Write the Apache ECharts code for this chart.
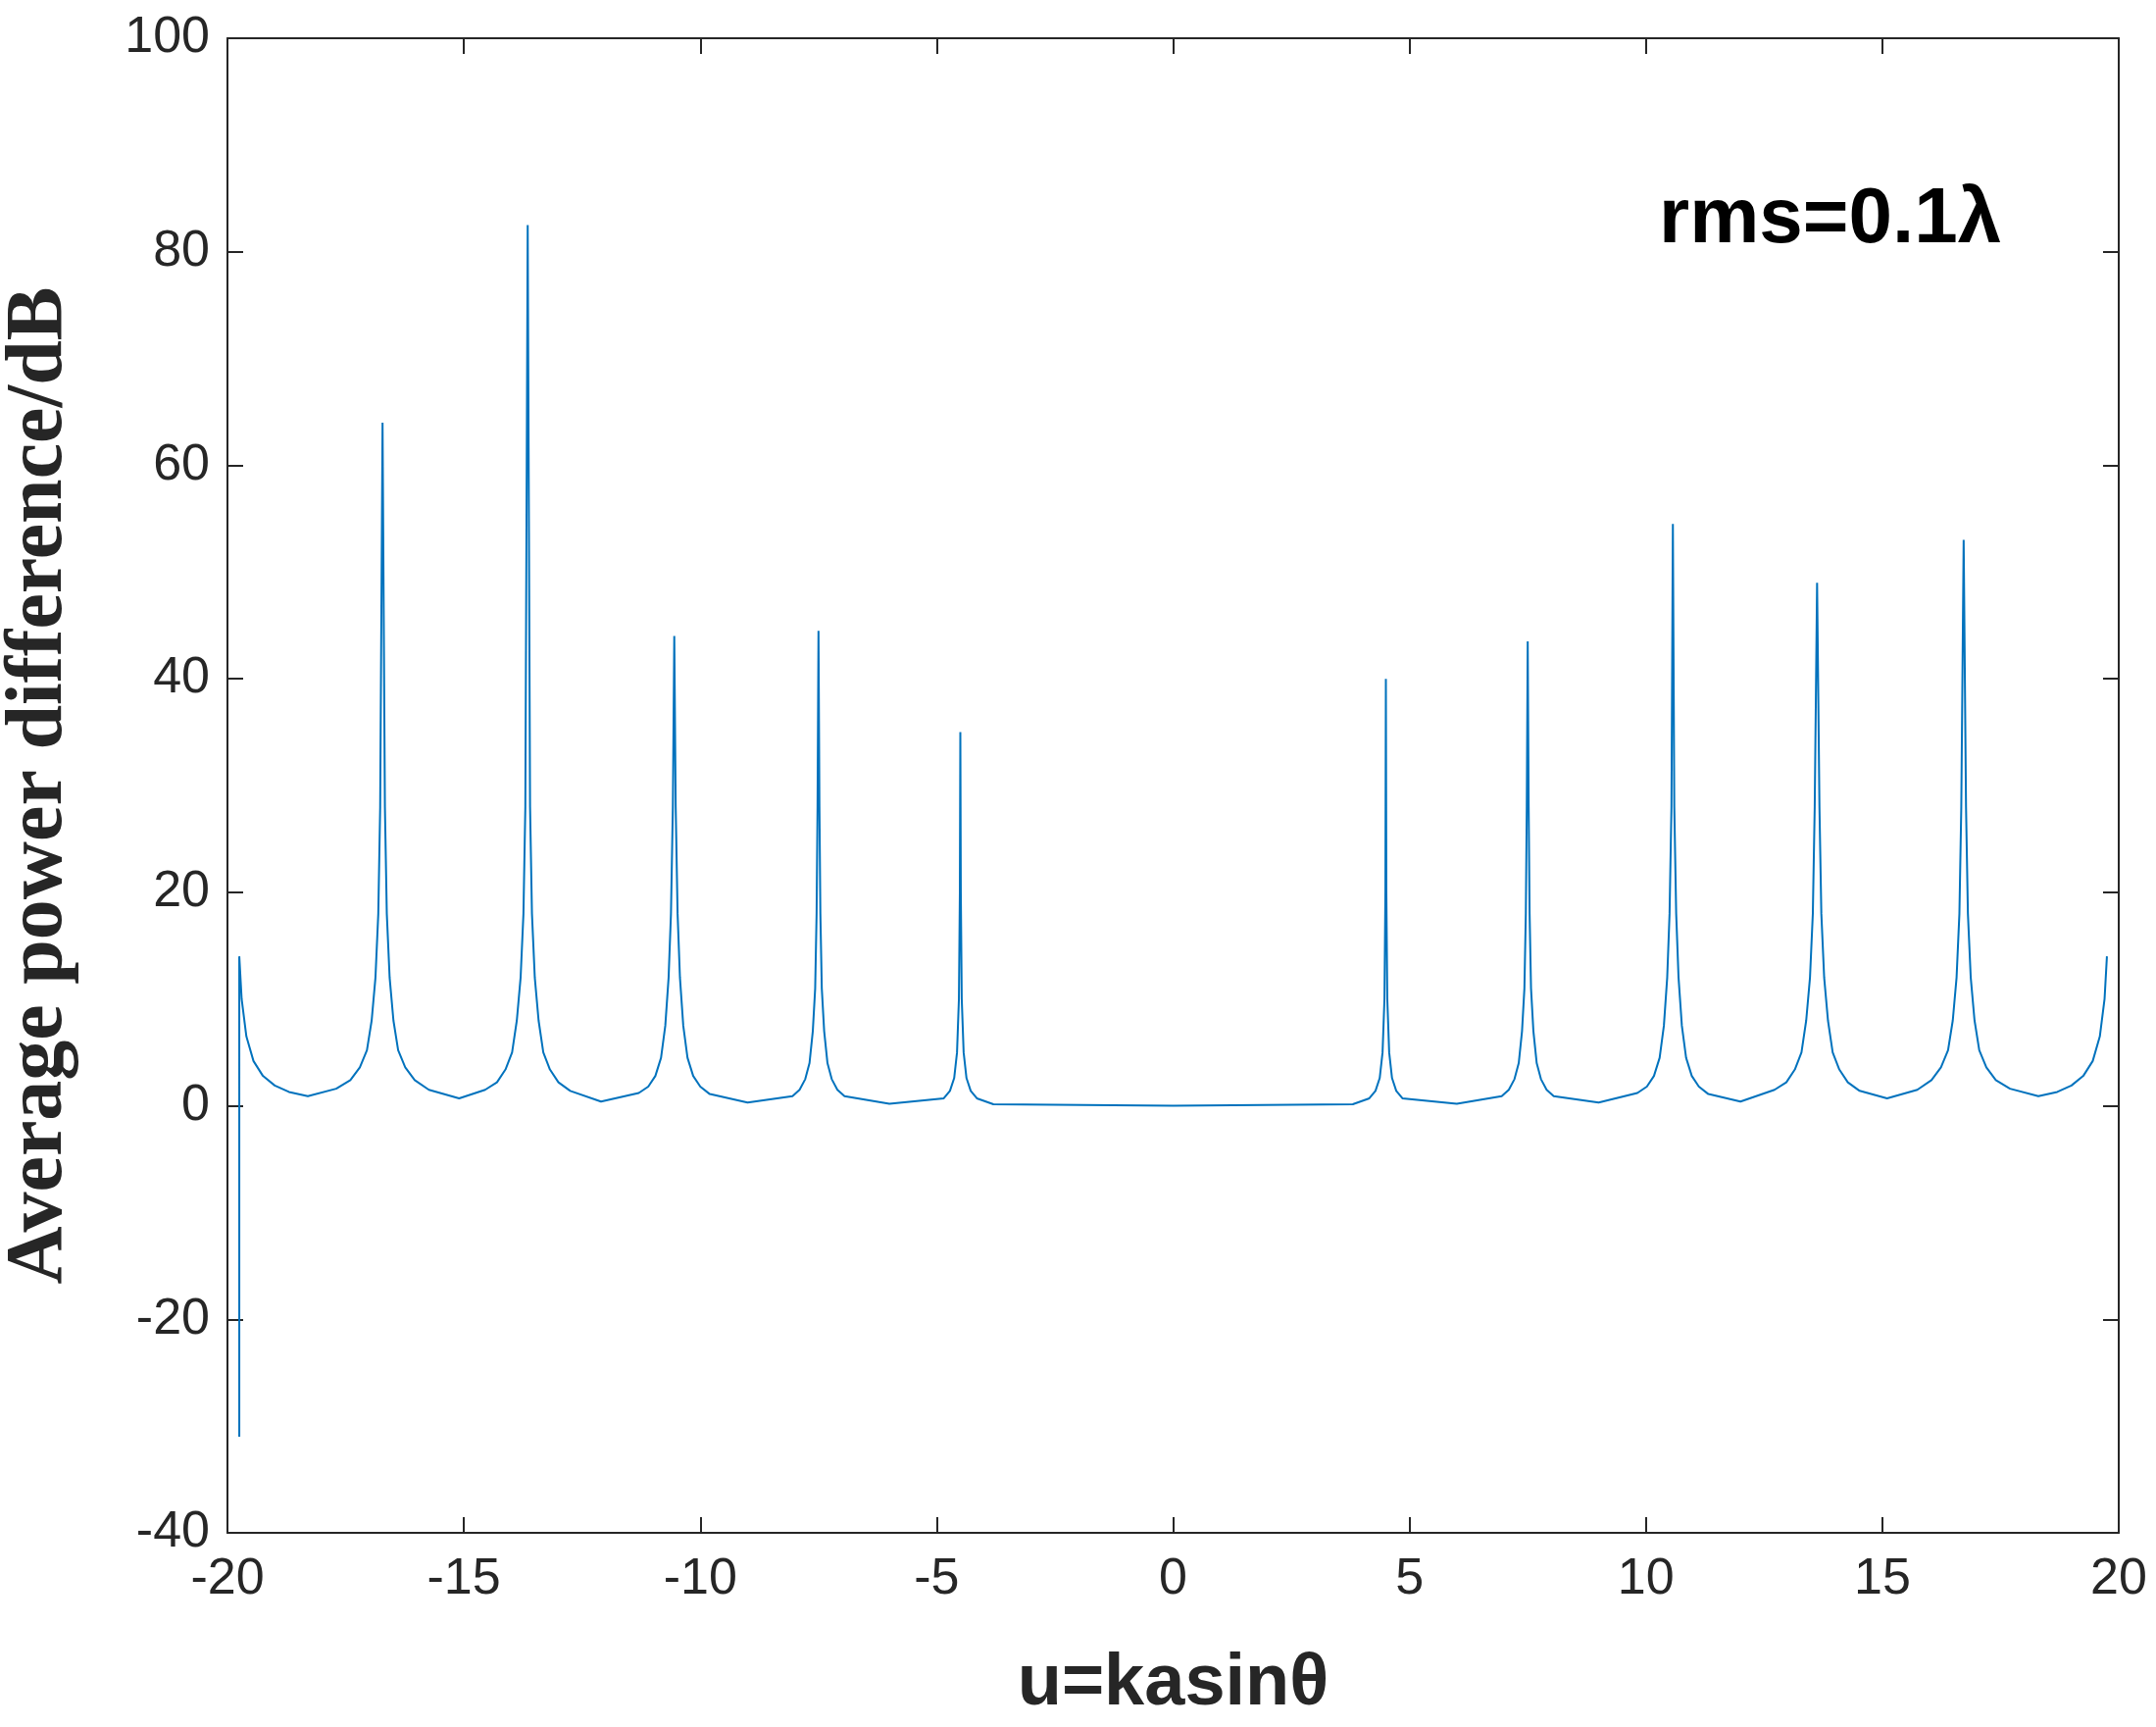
<!DOCTYPE html>
<html><head><meta charset="utf-8">
<script src="https://cdn.jsdelivr.net/npm/echarts@6/dist/echarts.min.js"></script>
<style>html,body{margin:0;padding:0;background:#fff}#c{width:2199px;height:1761px}</style>
</head><body><div id="c"></div>
<script>
const uValues = [
-19.75,-19.75,-19.7,-19.6,-19.45,-19.25,-19.0,-18.7,-18.3,
-17.7,-17.4,-17.2,-17.05,-16.95,-16.87,-16.81,-16.77,-16.72,-16.67,-16.63,-16.57,-16.49,-16.39,-16.24,-16.04,-15.74,-15.1,
-14.55,-14.3,-14.12,-13.98,-13.88,-13.8,-13.74,-13.7,-13.65,-13.6,-13.56,-13.5,-13.42,-13.32,-13.18,-13.0,-12.75,-12.1,
-11.3,-11.1,-10.95,-10.83,-10.74,-10.67,-10.62,-10.58,-10.55,-10.52,-10.48,-10.43,-10.36,-10.27,-10.15,-10.0,-9.8,-9.0,
-8.05,-7.9,-7.78,-7.69,-7.62,-7.57,-7.54,-7.52,-7.5,-7.48,-7.46,-7.43,-7.38,-7.31,-7.22,-7.1,-6.95,-6.0,
-4.85,-4.72,-4.63,-4.57,-4.53,-4.51,-4.5,-4.49,-4.47,-4.43,-4.37,-4.28,-4.15,-3.8,0,3.8,
4.15,4.28,4.37,4.43,4.47,4.49,4.5,4.51,4.53,4.57,4.63,4.72,4.85,6.0,
6.95,7.1,7.22,7.31,7.38,7.43,7.46,7.48,7.5,7.52,7.54,7.57,7.62,7.69,7.78,7.9,8.05,9.0,
9.82,10.02,10.17,10.29,10.38,10.45,10.5,10.54,10.57,10.6,10.64,10.69,10.76,10.85,10.97,11.12,11.32,12.0,
12.72,12.97,13.15,13.29,13.39,13.47,13.53,13.57,13.62,13.67,13.71,13.77,13.85,13.95,14.09,14.27,14.52,15.1,
15.74,16.04,16.24,16.39,16.49,16.57,16.63,16.67,16.72,16.77,16.81,16.87,16.95,17.05,17.2,17.4,17.7,18.3,
18.7,19.0,19.25,19.45,19.6,19.7,19.75];
const powerDiff = [
-31,14,10,6.5,4.2,2.8,1.9,1.3,0.9,
1.6,2.4,3.6,5.2,8,12,18,28,64,28,18,12,8,5.2,3.6,2.4,1.5,0.7,
1.5,2.2,3.4,5,8,12,18,28,82.5,28,18,12,8,5,3.4,2.2,1.4,0.4,
1.2,1.8,2.8,4.5,7.5,12,18,28,44,28,18,12,7.5,4.5,2.8,1.8,1.1,0.3,
0.9,1.5,2.5,4,7,11,18,28,44.5,28,18,11,7,4,2.5,1.5,0.9,0.2,
0.7,1.4,2.6,5,10,20,35,20,10,5,2.6,1.4,0.7,0.15,0,0.15,
0.7,1.4,2.6,5,10,20,40,20,10,5,2.6,1.4,0.7,0.2,
0.9,1.5,2.5,4,7,11,18,28,43.5,28,18,11,7,4,2.5,1.5,0.9,0.3,
1.2,1.8,2.8,4.5,7.5,12,18,28,54.5,28,18,12,7.5,4.5,2.8,1.8,1.1,0.4,
1.5,2.2,3.4,5,8,12,18,28,49,28,18,12,8,5,3.4,2.2,1.4,0.7,
1.5,2.4,3.6,5.2,8,12,18,28,53,28,18,12,8,5.2,3.6,2.4,1.6,0.9,
1.3,1.9,2.8,4.2,6.5,10,14];
const xTicks = [-20,-15,-10,-5,0,5,10,15,20];
const yTicks = [-40,-20,0,20,40,60,80,100];
const chart = echarts.init(document.getElementById('c'));
const ls = {color:'#262626',width:2};
const tick = {inside:true,length:16,lineStyle:ls};
const lab = {fontSize:52,color:'#262626',fontFamily:'Liberation Sans, Arial'};
chart.setOption({
 animation:false,
 grid:{left:232,right:38,top:39,bottom:198,outerBoundsMode:'none'},
 xAxis:[{type:'value',min:-20,max:20,interval:5,axisLine:{onZero:false,lineStyle:ls},axisTick:tick,
   splitLine:{show:false},axisLabel:Object.assign({margin:22},lab),
   name:'u=kasinθ',nameLocation:'middle',nameGap:118,nameTextStyle:{fontSize:74,fontWeight:'bold',color:'#262626',fontFamily:'Liberation Sans, Arial'}},
  {type:'value',position:'top',min:-20,max:20,interval:5,axisLine:{onZero:false,lineStyle:ls},axisTick:tick,axisLabel:{show:false},splitLine:{show:false}}],
 yAxis:[{type:'value',min:-40,max:100,interval:20,axisLine:{onZero:false,lineStyle:ls},axisTick:tick,
   splitLine:{show:false},axisLabel:Object.assign({margin:18},lab),
   name:'Average power difference/dB',nameLocation:'middle',nameGap:150,nameTextStyle:{fontSize:82,fontWeight:'bold',color:'#262626',fontFamily:'Liberation Serif, Times New Roman, serif'}},
  {type:'value',position:'right',min:-40,max:100,interval:20,axisLine:{onZero:false,lineStyle:ls},axisTick:tick,axisLabel:{show:false},splitLine:{show:false}}],
 series:[{type:'line',showSymbol:false,smooth:false,data:uValues.map((u,i)=>[u,powerDiff[i]]),lineStyle:{color:'#0072BD',width:2}}],
 graphic:[{type:'text',left:1692,top:185,style:{text:'rms=0.1λ',fontSize:80,fontWeight:'bold',fill:'#000',fontFamily:'Liberation Sans, Arial'}}]
});
</script></body></html>
